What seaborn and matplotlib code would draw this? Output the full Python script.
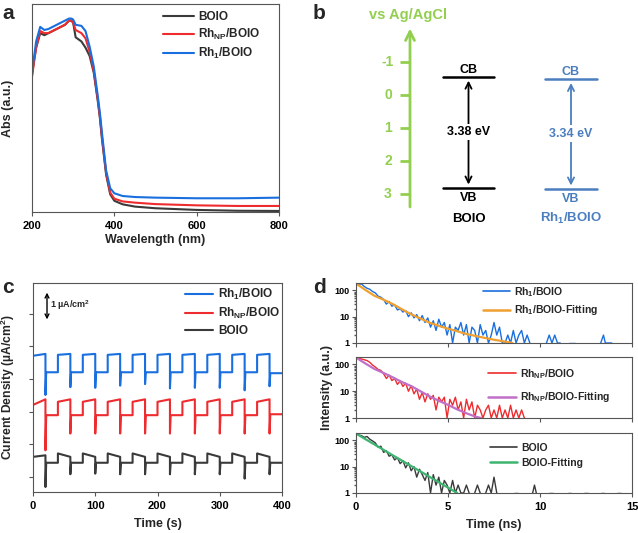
import numpy as np
import pandas as pd
import matplotlib
matplotlib.use("Agg")
import matplotlib.pyplot as plt
import seaborn as sns
from matplotlib.lines import Line2D

# ---------------- data ----------------
# (a) UV-vis absorbance (arbitrary units)
wavelength = [200, 205, 210, 220, 230, 240, 260, 280, 290, 296, 300, 306, 320, 330,
              340, 350, 360, 365, 370, 380, 390, 400, 420, 450, 500, 600, 700, 800]
abs_boio = [0.66, 0.73, 0.79, 0.86, 0.85, 0.86, 0.88, 0.90, 0.92, 0.92, 0.91, 0.84, 0.82, 0.79,
            0.75, 0.67, 0.53, 0.45, 0.35, 0.18, 0.085, 0.054, 0.037, 0.026, 0.018, 0.010, 0.006, 0.005]
abs_rhnp = [0.65, 0.72, 0.79, 0.87, 0.86, 0.86, 0.88, 0.90, 0.92, 0.92, 0.91, 0.875, 0.86, 0.835,
            0.77, 0.68, 0.54, 0.46, 0.36, 0.19, 0.093, 0.064, 0.051, 0.045, 0.038, 0.032, 0.029, 0.029]
abs_rh1 = [0.675, 0.745, 0.82, 0.89, 0.875, 0.88, 0.90, 0.92, 0.93, 0.93, 0.925, 0.90, 0.895, 0.87,
           0.795, 0.70, 0.555, 0.475, 0.38, 0.20, 0.114, 0.090, 0.077, 0.072, 0.069, 0.066, 0.066, 0.069]

# (b) band positions (V vs Ag/AgCl)
band_samples = ["BOIO", "Rh$_1$/BOIO"]
band_cb = [-0.55, -0.48]
band_vb = [2.83, 2.86]
band_gap_labels = ["3.38 eV", "3.34 eV"]
potential_ticks = [-1, 0, 1, 2, 3]

# (c) transient photocurrent (offset traces, µA/cm2)
light_on = [0, 40, 80, 120, 160, 200, 240, 280, 320, 360]
light_off = [20, 60, 100, 140, 180, 220, 260, 300, 340, 380]
rh1_on_start = [4.38, 4.41, 4.41, 4.41, 4.41, 4.41, 4.41, 4.41, 4.41, 4.41]
rh1_on_end = [4.44, 4.44, 4.44, 4.44, 4.44, 4.44, 4.44, 4.44, 4.44, 4.44]
rh1_spike = [3.12, 3.37, 3.35, 3.42, 3.47, 3.33, 3.35, 3.35, 3.27, 3.40]
rh1_low = [3.85, 3.85, 3.85, 3.85, 3.85, 3.85, 3.85, 3.85, 3.85, 3.82]
rhnp_on_start = [2.80, 2.90, 2.90, 2.90, 2.90, 2.90, 2.90, 2.90, 2.90, 2.90]
rhnp_on_end = [2.98, 2.98, 2.98, 2.98, 2.98, 2.98, 2.98, 2.98, 2.98, 2.98]
rhnp_spike = [1.34, 1.88, 1.88, 1.88, 1.88, 1.88, 1.88, 1.88, 1.88, 1.88]
rhnp_low = [2.47, 2.47, 2.47, 2.47, 2.47, 2.47, 2.47, 2.47, 2.47, 2.50]
boio_on_start = [1.13, 1.24, 1.24, 1.24, 1.24, 1.24, 1.24, 1.24, 1.24, 1.24]
boio_on_end = [1.18, 1.13, 1.13, 1.13, 1.13, 1.13, 1.13, 1.13, 1.13, 1.13]
boio_spike = [0.16, 0.57, 0.59, 0.57, 0.57, 0.57, 0.57, 0.57, 0.43, 0.57]
boio_low = [0.94, 0.94, 0.94, 0.94, 0.94, 0.94, 0.94, 0.94, 0.94, 0.94]

# (d) TRPL decays (counts, sampled every 0.15 ns)
trpl_step = 0.15
trpl_rh1 = [185, 170, 175, 140, 120, 110, 90, 80, 60, 55, 45, 30, 38, 25, 28, 18, 20, 15, 17, 10,
            14, 9, 12, 7, 11, 6, 9, 4, 7, 3, 8, 4, 6, 2, 5, 1, 4, 3, 6, 2,
            5, 1, 4, 3, 1, 5, 2, 3, 1, 2, 6, 2, 4, 1, 1, 2, 1, 3, 1, 2,
            3, 1, 2, 1]
trpl_rh1_tail_t = [10.35, 10.5, 10.65, 10.8, 10.95, 11.1, None, 11.6, 11.9, None, 13.3, 13.45, 13.55, 13.7, 13.9]
trpl_rh1_tail_v = [1, 2, 1, 2, 1, 1, None, 1, 1, None, 1, 2, 1, 1, 1]
trpl_rhnp = [190, 170, 160, 150, 140, 120, 95, 80, 65, 60, 45, 30, 40, 25, 30, 18, 24, 15, 20, 10,
             16, 8, 12, 5, 9, 4, 8, 5, 7, 2, 6, 4, 6, 1, 5, 3, 6, 2, 4, 1,
             5, 2, 4, 1, 3, 2, 1, 2, 3, 1, 2, 1, 3, 1, 2, 1, 3, 1, 2, 1,
             2, 1]
trpl_boio = [185, 160, 150, 130, 140, 110, 95, 80, 55, 60, 35, 40, 25, 28, 18, 22, 13, 17, 9, 14,
             7, 10, 4, 8, 5, 3, 6, 1, 5, 2, 4, 1, 3, 2, 1, 3, 1, 2, 1, 1,
             2, 1]
trpl_boio_tail_t = [6.45, 6.6, 6.75, None, 7.05, 7.2, 7.35, 7.5, 7.65, None, 8.6, 8.8, None, 9.6, 9.7, 9.8, None,
                    10.5, 10.7, None, 11.5, 11.7, None, 12.4, 12.6, None, 13.3, 13.5, None, 14.2, 14.4]
trpl_boio_tail_v = [1, 2, 1, None, 1, 2, 1, 4, 1, None, 1, 1, None, 1, 2, 1, None,
                    1, 1, None, 1, 1, None, 1, 1, None, 1, 1, None, 1, 1]
fit_rh1_t = [0, 0.5, 1, 1.5, 2, 2.5, 3, 3.5, 4, 4.5, 5, 5.5, 6, 6.5, 7, 7.5, 8, 8.5]
fit_rh1_v = [180, 105, 62, 44, 30, 19, 12.3, 8.5, 5.9, 4.5, 3.5, 2.8, 2.2, 1.85, 1.56, 1.33, 1.16, 1.0]
fit_rhnp_t = [0, 0.5, 1, 1.5, 2, 2.5, 3, 3.5, 4, 4.5, 5, 5.5, 6, 6.5, 6.8]
fit_rhnp_v = [180, 110, 68, 48, 33, 22, 15.6, 10, 6.4, 4.4, 3.1, 2.1, 1.5, 1.12, 1.0]
fit_boio_t = [0, 1, 2, 3, 4, 5, 5.5]
fit_boio_v = [180, 70, 27, 10.6, 4.1, 1.6, 1.0]

# ---------------- style ----------------
sns.set_theme(style="ticks")
plt.rcParams.update({
    "font.family": ["Liberation Sans", "DejaVu Sans"],
    "font.weight": "bold",
    "axes.labelweight": "bold",
    "mathtext.fontset": "custom",
    "mathtext.rm": "Liberation Sans:bold",
    "mathtext.it": "Liberation Sans:italic:bold",
    "mathtext.bf": "Liberation Sans:bold",
    "mathtext.default": "rm",
    "axes.edgecolor": "#555555",
    "axes.linewidth": 0.8,
    "xtick.color": "#555555",
    "ytick.color": "#555555",
    "xtick.labelcolor": "black",
    "ytick.labelcolor": "black",
    "xtick.major.size": 3,
    "ytick.major.size": 3,
    "xtick.major.width": 0.8,
    "ytick.major.width": 0.8,
})

BLACK = "#3a3a3a"
RED = "#ee2b2e"
BLUE = "#1a6fdf"
GREEN = "#92cf4f"
BBLUE = "#4a7ebf"
ORANGE = "#f0a030"
PURPLE = "#c070c8"
GFIT = "#3cb570"

W, H = 638, 533
fig = plt.figure(figsize=(W / 100, H / 100), dpi=100)


def rect(x0, y0, x1, y1):
    return [x0 / W, 1 - y1 / H, (x1 - x0) / W, (y1 - y0) / H]


LAB = 9
TICK = 8

# ---------------- (a) ----------------
axa = fig.add_axes(rect(32, 4, 279, 212))
dfa = pd.DataFrame({
    "wl": wavelength * 3,
    "abs": abs_boio + abs_rhnp + abs_rh1,
    "sample": ["BOIO"] * len(wavelength) + ["RhNP"] * len(wavelength) + ["Rh1"] * len(wavelength),
})
sns.lineplot(data=dfa, x="wl", y="abs", hue="sample",
             palette={"BOIO": BLACK, "RhNP": RED, "Rh1": BLUE},
             lw=1.5, ax=axa, legend=False, sort=False, estimator=None)
axa.set_xlim(200, 800)
axa.set_ylim(0, 1.0)
axa.set_xticks([200, 400, 600, 800])
axa.set_yticks([])
axa.tick_params(labelsize=TICK)
axa.set_xlabel("Wavelength (nm)", fontsize=LAB, labelpad=2)
axa.set_ylabel("Abs (a.u.)", fontsize=LAB)
axa.yaxis.set_label_coords(-0.072, 0.5)
ha = [Line2D([], [], color=BLACK, lw=1.5), Line2D([], [], color=RED, lw=1.5), Line2D([], [], color=BLUE, lw=1.5)]
axa.legend(ha, ["BOIO", "Rh$_{\\mathregular{NP}}$/BOIO", "Rh$_1$/BOIO"], loc="center left",
           bbox_to_anchor=(0.53, 0.845), frameon=False, fontsize=8.5, handlelength=2.6,
           handletextpad=0.4, labelspacing=0.35, borderpad=0, borderaxespad=0)
fig.text(2 / W, 1 - 4 / H, "a", fontsize=15, fontweight="bold", va="top", ha="left")

# ---------------- (b) ----------------
axb = fig.add_axes(rect(320, 0, 638, 250))
axb.set_xlim(320, 638)
axb.set_ylim(4.70, -2.88)
axb.axis("off")
axb.annotate("", xy=(410, -2.1), xytext=(410, 3.48),
             arrowprops=dict(arrowstyle="->", color=GREEN, lw=2.0, mutation_scale=16))
for v in potential_ticks:
    axb.plot([400, 410], [v, v], color=GREEN, lw=2.0, solid_capstyle="butt")
    axb.text(388, v, str(v), color=GREEN, fontsize=10, ha="center", va="center", fontweight="bold")
axb.text(408, -2.43, "vs Ag/AgCl", color=GREEN, fontsize=10.5, ha="center", va="center", fontweight="bold")
band_x = [(443, 494), (545, 597)]
band_col = ["black", BBLUE]
for (x0, x1), cb, vb, lab, gap, col in zip(band_x, band_cb, band_vb, band_samples, band_gap_labels, band_col):
    xm = (x0 + x1) / 2
    axb.plot([x0, x1], [cb, cb], color=col, lw=1.8)
    axb.plot([x0, x1], [vb, vb], color=col, lw=1.8)
    axb.annotate("", xy=(xm, cb + 0.03), xytext=(xm, vb - 0.03),
                 arrowprops=dict(arrowstyle="<->", color=col, lw=1.3, mutation_scale=11))
    axb.text(xm, (cb + vb) / 2 - 0.02, gap, color=col, fontsize=9, ha="center", va="center",
             bbox=dict(facecolor="white", edgecolor="none", pad=1.5))
    axb.text(xm, cb - 0.04, "CB", color=col, fontsize=9, ha="center", va="bottom")
    axb.text(xm, vb + 0.12, "VB", color=col, fontsize=9, ha="center", va="top")
    axb.text(xm, 3.75, lab, color=col, fontsize=9.5, ha="center", va="center")
fig.text(313 / W, 1 - 4 / H, "b", fontsize=15, fontweight="bold", va="top", ha="left")


# ---------------- (c) ----------------
def chopped(on_start, on_end, spike, low):
    t, v = [], []
    for i in range(len(light_on)):
        ton, toff = light_on[i], light_off[i]
        if i > 0:
            t.append(ton)
            v.append(low[i - 1])
        t += [ton, toff, toff, toff + 1.2]
        v += [on_start[i], on_end[i], spike[i], low[i]]
    t.append(400)
    v.append(low[-1])
    return t, v


axc = fig.add_axes(rect(33, 283, 282, 492))
frames = []
for name, args in [("Rh1", (rh1_on_start, rh1_on_end, rh1_spike, rh1_low)),
                   ("RhNP", (rhnp_on_start, rhnp_on_end, rhnp_spike, rhnp_low)),
                   ("BOIO", (boio_on_start, boio_on_end, boio_spike, boio_low))]:
    t, v = chopped(*args)
    frames.append(pd.DataFrame({"t": t, "j": v, "sample": name}))
dfc = pd.concat(frames, ignore_index=True)
sns.lineplot(data=dfc, x="t", y="j", hue="sample", units="sample",
             palette={"BOIO": BLACK, "RhNP": RED, "Rh1": BLUE},
             lw=1.5, ax=axc, legend=False, sort=False, estimator=None)
axc.set_xlim(0, 400)
axc.set_ylim(0, 6.72)
axc.set_xticks([0, 100, 200, 300, 400])
axc.set_yticks([0.48, 1.53, 2.58, 3.62, 4.68, 5.72])
axc.set_yticklabels([])
axc.tick_params(labelsize=TICK)
axc.set_xlabel("Time (s)", fontsize=LAB, labelpad=5)
axc.set_ylabel("Current Density (µA/cm$^2$)", fontsize=8.7)
axc.yaxis.set_label_coords(-0.064, 0.5)
axc.annotate("", xy=(22.5, 6.50), xytext=(22.5, 5.46),
             arrowprops=dict(arrowstyle="<->", color="black", lw=1.0, mutation_scale=7))
axc.text(27, 6.0, "1 µA/cm$^2$", fontsize=6.5, ha="left", va="center")
hc = [Line2D([], [], color=BLUE, lw=1.5), Line2D([], [], color=RED, lw=1.5), Line2D([], [], color=BLACK, lw=1.5)]
axc.legend(hc, ["Rh$_1$/BOIO", "Rh$_{\\mathregular{NP}}$/BOIO", "BOIO"], loc="center left",
           bbox_to_anchor=(0.61, 0.86), frameon=False, fontsize=8.5, handlelength=2.4,
           handletextpad=0.4, labelspacing=0.35, borderpad=0, borderaxespad=0)
fig.text(2 / W, 1 - 278 / H, "c", fontsize=15, fontweight="bold", va="top", ha="left")


# ---------------- (d) ----------------
def trpl_frame(vals, tail_t=None, tail_v=None):
    t = list(np.arange(len(vals)) * trpl_step)
    v = list(vals)
    seg = [0] * len(vals)
    if tail_t is not None:
        s = 1
        for tt, vv in zip(tail_t, tail_v):
            if tt is None:
                s += 1
                continue
            t.append(tt)
            v.append(vv)
            seg.append(s)
    return pd.DataFrame({"t": t, "I": v, "seg": seg})


panels = [
    (rect(356, 283, 632, 343), trpl_frame(trpl_rh1, trpl_rh1_tail_t, trpl_rh1_tail_v), BLUE,
     fit_rh1_t, fit_rh1_v, ORANGE, ["Rh$_1$/BOIO", "Rh$_1$/BOIO-Fitting"], (0.46, 0.70), 0.45),
    (rect(356, 357, 632, 418), trpl_frame(trpl_rhnp), RED,
     fit_rhnp_t, fit_rhnp_v, PURPLE, ["Rh$_{\\mathregular{NP}}$/BOIO", "Rh$_{\\mathregular{NP}}$/BOIO-Fitting"], (0.48, 0.53), 0.9),
    (rect(356, 433, 632, 493), trpl_frame(trpl_boio, trpl_boio_tail_t, trpl_boio_tail_v), BLACK,
     fit_boio_t, fit_boio_v, GFIT, ["BOIO", "BOIO-Fitting"], (0.486, 0.63), 0.45),
]
axes_d = []
for i, (r, dfd, col, ft, fv, fcol, labels, anchor, lsp) in enumerate(panels):
    ax = fig.add_axes(r)
    axes_d.append(ax)
    sns.lineplot(data=dfd, x="t", y="I", units="seg", estimator=None, sort=False,
                 color=col, lw=1.0, ax=ax, legend=False)
    dff = pd.DataFrame({"t": ft, "I": fv})
    sns.lineplot(data=dff, x="t", y="I", color=fcol, lw=1.6, ax=ax, legend=False, sort=False, estimator=None)
    ax.set_yscale("log")
    ax.set_ylim(1, 190)
    ax.set_xlim(0, 15)
    ax.set_yticks([1, 10, 100])
    ax.set_yticklabels(["1", "10", "100"])
    ax.set_xticks([0, 5, 10, 15])
    ax.tick_params(axis="y", labelsize=6.5, pad=1.5)
    ax.tick_params(axis="y", which="minor", length=1.5, color="#555555")
    ax.tick_params(axis="x", labelsize=TICK)
    ax.set_xlabel("")
    ax.set_ylabel("")
    if i < 2:
        ax.set_xticklabels([])
    hd = [Line2D([], [], color=col, lw=1.2), Line2D([], [], color=fcol, lw=1.8)]
    ax.legend(hd, labels, loc="center left", bbox_to_anchor=anchor, frameon=False, fontsize=7.5,
              handlelength=2.6, handletextpad=0.4, labelspacing=lsp, borderpad=0, borderaxespad=0)
axes_d[-1].set_xlabel("Time (ns)", fontsize=LAB, labelpad=5)
fig.text(327 / W, 1 - 388 / H, "Intensity (a.u.)", fontsize=LAB, fontweight="bold",
         rotation=90, ha="center", va="center")
fig.text(313 / W, 1 - 278 / H, "d", fontsize=15, fontweight="bold", va="top", ha="left")

fig.savefig("out.png", dpi=100)
